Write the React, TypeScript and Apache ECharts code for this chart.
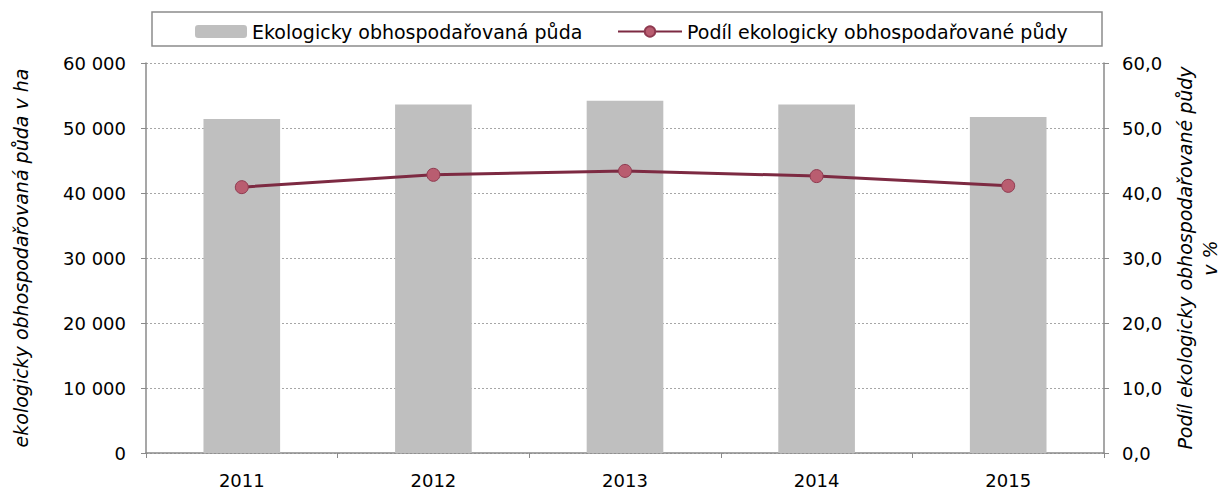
import React, { useEffect, useRef } from "react";
import * as echarts from "echarts";

const years = ["2011", "2012", "2013", "2014", "2015"];
const areaHa = [51400, 53600, 54200, 53600, 51700];
const sharePct = [40.9, 42.8, 43.4, 42.6, 41.1];
const barName = "Ekologicky obhospodařovaná půda";
const lineName = "Podíl ekologicky obhospodařované půdy";
const leftTitle = "ekologicky obhospodařovaná půda v ha";
const rightTitle = "Podíl ekologicky obhospodařované půdy\nv %";

const FONT = "DejaVu Sans";

export default function App() {
  const ref = useRef<HTMLDivElement>(null);
  useEffect(() => {
    document.body.style.margin = "0";
    const chart = echarts.init(ref.current!, null, { renderer: "svg" });
    const axisLineColor = "#8a8a8a";
    chart.setOption({
      animation: false,
      backgroundColor: "#ffffff",
      textStyle: { fontFamily: FONT, color: "#000" },
      grid: { left: 146, right: 117, top: 63, bottom: 37, outerBoundsMode: "none", containLabel: false },
      graphic: [
        {
          type: "rect",
          shape: { x: 152, y: 12, width: 950, height: 34 },
          style: { fill: "#fff", stroke: "#8c8c8c", lineWidth: 1.5 },
          z: -1,
        },
      ],
      legend: [
        {
          data: [barName],
          left: 195,
          top: 22,
          itemWidth: 52,
          itemHeight: 13,
          itemGap: 0,
          padding: 0,
          textStyle: { fontFamily: FONT, fontSize: 19, color: "#000" },
        },
        {
          data: [lineName],
          left: 617,
          top: 22,
          itemWidth: 64,
          itemHeight: 13,
          padding: 0,
          textStyle: { fontFamily: FONT, fontSize: 19, color: "#000" },
        },
      ],
      xAxis: {
        type: "category",
        data: years,
        axisLine: { lineStyle: { color: axisLineColor, width: 1.5 } },
        axisTick: { show: true, length: 5, lineStyle: { color: axisLineColor } },
        axisLabel: { fontFamily: FONT, fontSize: 18, color: "#000", margin: 18 },
      },
      yAxis: [
        {
          type: "value",
          min: 0,
          max: 60000,
          interval: 10000,
          position: "left",
          name: leftTitle,
          nameLocation: "middle",
          nameRotate: 90,
          nameGap: 116,
          nameTextStyle: { fontFamily: FONT, fontSize: 19, fontStyle: "italic", color: "#000" },
          axisLine: { show: true, lineStyle: { color: axisLineColor, width: 1.5 } },
          axisTick: { show: true, length: 5, lineStyle: { color: axisLineColor } },
          axisLabel: {
            fontFamily: FONT,
            fontSize: 18,
            color: "#000",
            margin: 20,
            formatter: (v: number) => String(v).replace(/\B(?=(\d{3})+(?!\d))/g, " "),
          },
          splitLine: { show: true, lineStyle: { color: "#a6a6a6", type: [2, 2], width: 1 } },
        },
        {
          type: "value",
          min: 0,
          max: 60,
          interval: 10,
          position: "right",
          name: rightTitle,
          nameLocation: "middle",
          nameRotate: 90,
          nameGap: 63,
          nameTextStyle: {
            fontFamily: FONT,
            fontSize: 19,
            fontStyle: "italic",
            color: "#000",
            lineHeight: 25,
          },
          axisLine: { show: true, lineStyle: { color: axisLineColor, width: 1.5 } },
          axisTick: { show: true, length: 5, lineStyle: { color: axisLineColor } },
          axisLabel: {
            fontFamily: FONT,
            fontSize: 18,
            color: "#000",
            margin: 18,
            formatter: (v: number) => v.toFixed(1).replace(".", ","),
          },
          splitLine: { show: false },
        },
      ],
      series: [
        {
          name: barName,
          type: "bar",
          data: areaHa,
          yAxisIndex: 0,
          barWidth: "40%",
          itemStyle: { color: "#bfbfbf" },
        },
        {
          name: lineName,
          type: "line",
          data: sharePct,
          yAxisIndex: 1,
          symbol: "circle",
          symbolSize: 13,
          lineStyle: { color: "#7d2a42", width: 3 },
          itemStyle: { color: "#b95d70", borderColor: "#8f3a50", borderWidth: 1 },
        },
      ],
    });
    return () => chart.dispose();
  }, []);
  return <div ref={ref} style={{ width: 1221, height: 490 }} />;
}
